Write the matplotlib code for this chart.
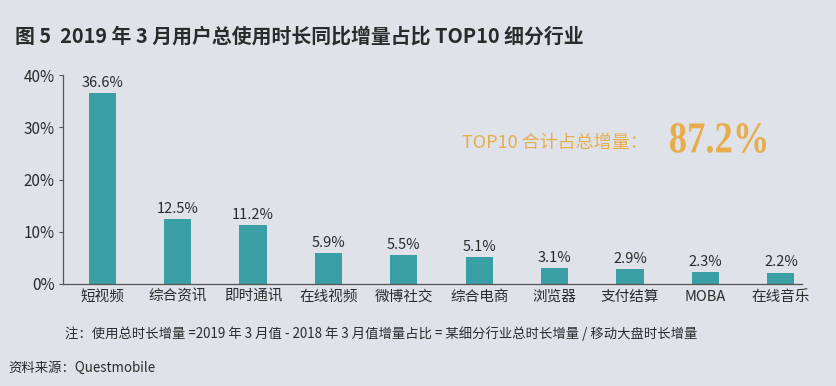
import matplotlib
matplotlib.use('Agg')
import matplotlib.pyplot as plt
from matplotlib.textpath import TextPath
from matplotlib.font_manager import FontProperties
from matplotlib.patches import PathPatch
from matplotlib.transforms import Affine2D, IdentityTransform

plt.rcParams['font.family'] = ['Noto Sans CJK SC', 'DejaVu Sans']

categories = ['短视频', '综合资讯', '即时通讯', '在线视频', '微博社交',
              '综合电商', '浏览器', '支付结算', 'MOBA', '在线音乐']
values = [36.6, 12.5, 11.2, 5.9, 5.5, 5.1, 3.1, 2.9, 2.3, 2.2]
yticks = [0, 10, 20, 30, 40]
total_label = '87.2%'

BG = '#dfe2e9'
BAR = '#3a9fa4'
GOLD = '#e6ad4c'
TEXT = '#2b2b2b'

W, H = 837, 386
fig = plt.figure(figsize=(W / 100, H / 100), dpi=100, facecolor=BG)
ax = fig.add_axes([63 / W, 102 / H, 739 / W, 209 / H])
ax.set_facecolor(BG)

x = range(len(categories))
ax.bar(x, values, width=0.36, color=BAR)
for xi, v in zip(x, values):
    ax.text(xi, v + 0.6, f'{v}%', ha='center', va='bottom', fontsize=10.5, color=TEXT)

ax.set_xlim(-0.52, 9.28)
ax.set_ylim(0, 40)
ax.set_yticks(yticks)
ax.set_yticklabels([f'{t}%' for t in yticks], fontsize=11, color=TEXT)
ax.set_xticks(list(x))
ax.set_xticklabels(categories, fontsize=10.5, color=TEXT)
ax.tick_params(axis='x', length=0, pad=4)
ax.tick_params(axis='y', length=3, color='#555555', pad=3)
for s in ['top', 'right']:
    ax.spines[s].set_visible(False)
for s in ['left', 'bottom']:
    ax.spines[s].set_color('#555555')
    ax.spines[s].set_linewidth(0.9)

fig.text(15 / W, 1 - 36 / H, '图 5  2019 年 3 月用户总使用时长同比增量占比 TOP10 细分行业',
         fontsize=14.3, fontweight='bold', color=TEXT, va='center', ha='left')
fig.text(648 / W, 1 - 143 / H, 'TOP10 合计占总增量：', fontsize=13, color=GOLD,
         ha='right', va='center')

# condensed serif for the big total: squeeze a text path into its box (pixels)
tp = TextPath((0, 0), total_label, size=40,
              prop=FontProperties(family='Liberation Serif', weight='bold'))
ext = tp.get_extents()
box_x0, box_x1, box_top, box_bot = 670, 766, 123, 153
sx = (box_x1 - box_x0) / ext.width
sy = (box_bot - box_top) / ext.height
tr = Affine2D().translate(-ext.x0, -ext.y0).scale(sx, sy).translate(box_x0, H - box_bot)
fig.add_artist(PathPatch(tr.transform_path(tp), facecolor=GOLD, edgecolor='none',
                         transform=IdentityTransform()))

fig.text(65 / W, 1 - 334 / H,
         '注：使用总时长增量 =2019 年 3 月值 - 2018 年 3 月值增量占比 = 某细分行业总时长增量 / 移动大盘时长增量',
         fontsize=9.6, color=TEXT, va='center', ha='left')
fig.text(8 / W, 1 - 368 / H, '资料来源：Questmobile', fontsize=9.6, color=TEXT,
         va='center', ha='left')

fig.savefig('out.png', dpi=100, facecolor=BG)
